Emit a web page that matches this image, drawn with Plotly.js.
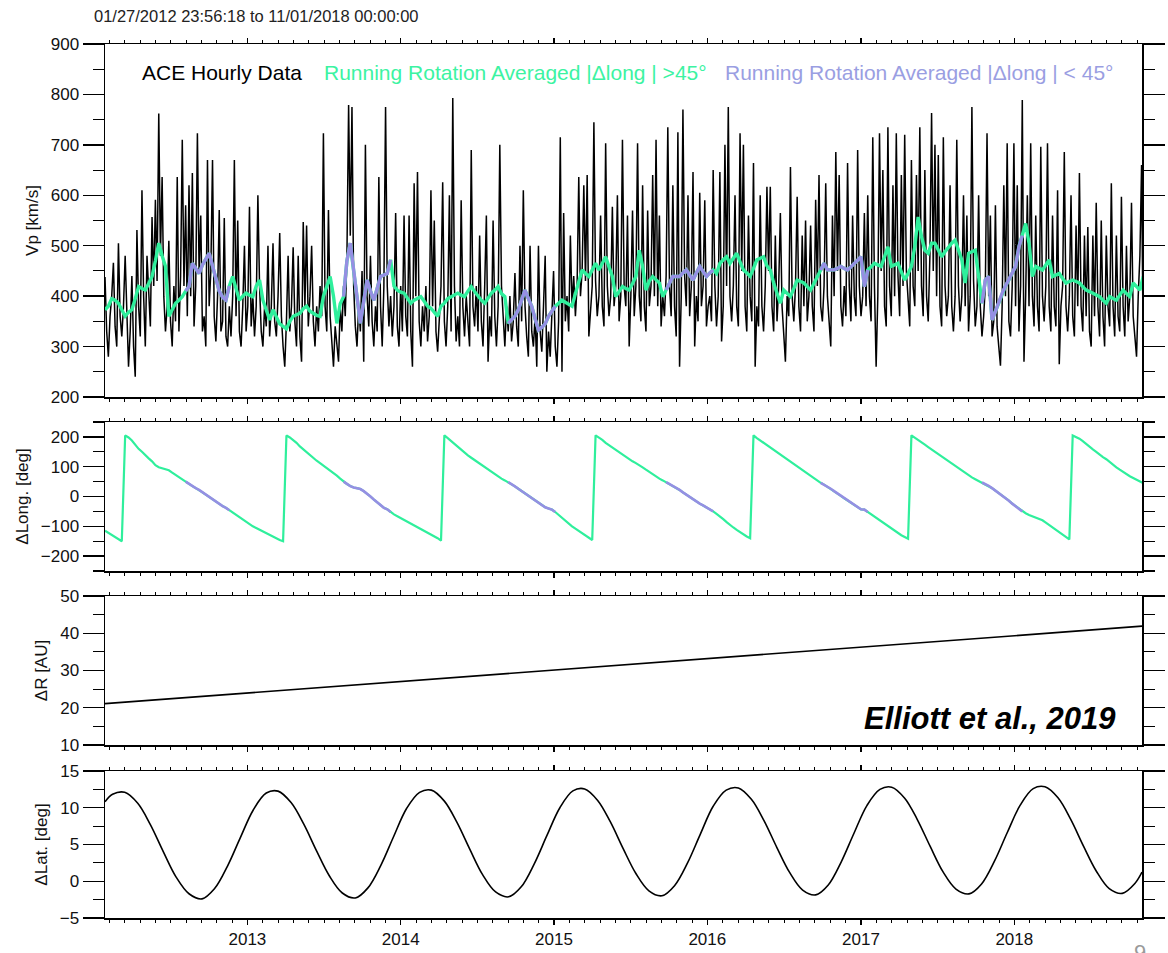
<!DOCTYPE html>
<html><head><meta charset="utf-8">
<script src="https://cdn.plot.ly/plotly-3.0.1.min.js"></script>
<style>html,body{margin:0;padding:0;background:#fff;}#chart{width:1168px;height:953px;}</style>
</head><body><div id="chart"></div>
<script>
// ---------------- DATA ----------------
const startDate = '2012-01-28';
const hourlyStepDays = 4;   // sampling step of the hourly-data trace
const avgStepDays = 8;      // sampling step of running average / delta-long traces
const xRange = ['2012-01-27 23:56:18', '2018-11-01 00:00:00'];

// ACE solar wind speed (km/s)
const vpHourly = [
438,330,280,360,400,466,340,300,505,360,
320,380,480,350,260,330,440,300,240,531,
380,320,610,400,300,480,420,340,557,420,
591,430,762,480,636,400,330,380,510,350,
300,420,350,636,330,440,710,420,580,360,
620,400,644,340,420,723,450,560,330,360,
300,670,380,450,670,360,310,400,571,330,
350,555,320,300,380,320,400,670,360,550,
330,300,380,500,330,380,577,340,400,320,
380,600,420,330,300,380,340,500,320,380,
505,350,320,400,525,360,300,260,350,480,
330,380,497,350,300,480,320,270,547,380,
540,340,400,500,350,300,380,330,420,360,
723,380,330,571,360,300,260,340,300,270,
380,330,420,360,480,779,520,775,420,340,
300,380,330,450,270,700,400,340,480,350,
300,380,330,636,380,300,420,775,420,340,
400,320,380,565,340,300,420,330,560,360,
320,560,330,260,624,400,646,350,300,380,
330,420,310,360,610,380,550,330,290,360,
420,626,350,300,380,600,330,793,420,310,
360,300,590,380,320,400,350,300,690,380,
340,420,330,520,350,300,420,560,270,360,
320,550,360,300,380,700,420,350,300,380,
330,400,310,350,446,340,300,500,350,610,
380,320,280,500,330,300,360,260,500,330,
290,380,480,250,330,280,360,450,300,260,
350,715,250,565,350,400,330,520,380,440,
360,420,636,400,450,620,430,640,320,380,
420,745,430,360,400,560,380,340,703,420,
360,400,577,380,420,600,350,400,710,420,
380,560,300,400,570,360,420,703,400,350,
620,380,330,570,380,420,640,400,710,380,
560,340,400,360,440,735,420,360,620,380,
320,725,260,400,770,440,380,600,360,420,
646,300,400,350,605,380,420,590,340,380,
400,350,650,420,340,400,646,310,380,700,
420,775,400,350,420,600,380,340,723,450,
700,380,330,560,400,350,664,260,380,340,
600,380,330,420,617,450,617,380,330,520,
350,420,565,380,330,270,400,360,656,400,
350,420,597,380,330,520,380,550,350,400,
540,380,330,591,420,640,380,350,420,624,
400,350,300,560,400,686,450,640,380,340,
420,360,664,420,350,560,400,360,690,420,
360,400,565,380,600,400,350,715,420,260,
400,723,450,650,380,340,735,420,360,620,
400,723,440,360,640,420,720,450,380,340,
670,420,380,640,450,735,420,360,650,400,
350,480,763,450,700,400,680,380,340,715,
420,360,400,620,380,330,400,710,420,350,
400,600,380,560,330,400,775,430,340,380,
600,380,320,360,420,723,400,560,320,350,
580,340,300,262,380,620,400,703,350,320,
420,703,380,620,330,420,789,270,400,600,
380,703,400,340,560,380,330,696,400,350,
420,703,380,330,560,380,340,610,265,380,
420,686,380,330,400,600,360,320,540,380,
644,380,330,520,360,537,330,300,520,360,
585,380,320,550,360,300,520,380,340,624,
380,320,520,360,330,597,380,320,500,350,
400,585,360,320,280,400,480,660,280];

// Running rotation averaged speed (km/s)
const vpRotAvg = [
373,380,395,392,386,372,360,368,373,395,
419,415,412,425,439,470,505,480,459,360,
372,386,392,399,410,419,465,455,445,462,
475,485,460,432,410,398,392,420,439,415,
392,400,406,402,399,420,432,392,370,353,
373,360,345,340,335,350,360,363,366,375,
380,370,366,362,360,400,419,439,400,346,
385,399,470,505,450,399,346,390,432,410,
392,415,439,442,445,472,420,412,408,406,
396,386,392,396,399,390,380,376,368,360,
380,386,395,399,402,406,402,399,410,419,
409,399,392,386,396,406,412,419,405,399,
346,353,360,373,395,412,395,380,355,333,
338,345,360,370,380,386,392,388,384,380,
405,426,452,445,439,452,465,452,465,478,
458,439,399,410,419,415,412,425,439,491,
459,412,430,439,432,426,399,412,426,439,
439,439,446,452,442,432,446,459,449,439,
446,452,445,465,472,478,465,475,485,468,
452,446,439,455,472,475,478,460,452,426,
405,386,412,405,399,415,432,429,426,419,
412,425,439,452,465,452,452,452,455,459,
455,452,458,465,472,478,419,452,458,465,
462,459,478,498,459,462,465,448,432,445,
459,498,557,518,491,485,505,505,490,478,
488,498,505,511,490,472,426,485,488,491,
439,386,432,439,353,370,390,406,420,432,
445,459,498,520,544,505,439,459,455,452,
462,472,439,442,445,435,426,429,432,429,
426,419,412,409,406,402,399,392,386,399,
395,392,402,412,405,399,426,419,412,439];

// Longitude difference (deg), same sampling as the running average
const deltaLong = [
-115,-122,-128,-136,-142,-150,205,198,188,172,
160,150,138,128,118,105,98,95,92,88,
80,72,66,58,50,42,35,28,22,14,
6,-2,-10,-16,-24,-32,-38,-46,-54,-62,
-70,-78,-84,-92,-100,-106,-112,-118,-124,-130,
-136,-140,-146,-150,205,198,190,180,168,158,
150,140,130,120,112,104,96,88,80,70,
60,50,42,35,30,28,25,18,10,0,
-10,-20,-30,-38,-43,-52,-60,-66,-72,-80,
-86,-92,-98,-104,-110,-116,-122,-128,-134,-140,
-148,205,196,186,176,166,156,146,138,130,
122,114,106,98,90,82,74,66,60,54,
48,42,34,26,18,10,2,-6,-14,-22,
-30,-36,-40,-44,-52,-62,-72,-82,-92,-100,
-108,-116,-124,-132,-140,-146,205,198,190,180,
172,164,156,148,140,132,124,118,112,106,
98,90,82,74,66,60,54,48,42,36,
30,22,14,6,-2,-10,-18,-24,-30,-36,
-42,-50,-58,-66,-76,-86,-96,-104,-112,-120,
-128,-134,-140,205,196,188,180,172,164,156,
148,140,132,124,116,108,100,92,84,76,
68,60,52,46,40,33,26,18,10,2,
-6,-14,-22,-30,-37,-43,-44,-52,-60,-68,
-76,-84,-92,-100,-108,-116,-124,-130,-136,-142,
205,198,190,182,174,166,158,150,142,134,
126,118,110,102,94,86,78,70,64,58,
52,47,42,36,28,20,12,4,-4,-14,
-24,-32,-40,-50,-56,-62,-66,-70,-74,-80,
-88,-96,-104,-112,-120,-128,-136,-144,205,200,
194,186,176,166,158,150,140,132,125,115,
106,98,90,82,74,68,62,56,50,45];
const longThreshold = 45;

// Radial distance difference (AU)
const deltaRDates = ['2012-01-27 23:56:18', '2018-11-01 00:00:00'];
const deltaR = [21.1, 41.9];

// Latitude difference (deg): 2012-01-28, then the 15th of each month, then 2018-11-01
const deltaLat = [
10.8,11.83,12.1,10.6,7.7,4.0,0.6,-1.7,-2.4,-1.0,2.1,5.9,
9.7,12.0,12.26,10.7,7.8,4.1,0.75,-1.6,-2.27,-0.9,2.2,6.05,
9.9,12.1,12.4,10.9,8.0,4.3,0.9,-1.46,-2.12,-0.76,2.37,6.2,
10.0,12.3,12.56,11.0,8.1,4.4,1.05,-1.3,-1.97,-0.6,2.5,6.35,
10.2,12.4,12.7,11.15,8.25,4.55,1.2,-1.2,-1.85,-0.5,2.65,6.5,
10.3,12.5,12.8,11.3,8.4,4.7,1.3,-1.06,-1.72,-0.36,2.77,6.6,
10.35,12.6,12.85,11.35,8.45,4.75,1.4,-1.0,-1.65,-0.3,1.25];

const titleText = '01/27/2012 23:56:18 to 11/01/2018 00:00:00';
const legendTexts = ['ACE Hourly Data', 'Running Rotation Averaged |\u0394long | >45\u00b0', 'Running Rotation Averaged |\u0394long | < 45\u00b0'];
const citation = 'Elliott et al., 2019';

// ---------------- BUILD ----------------
function addDays(d0, n) {
  const d = new Date(d0 + 'T00:00:00Z');
  d.setUTCDate(d.getUTCDate() + n);
  return d.toISOString().slice(0, 10);
}
const hourlyDates = vpHourly.map((_, i) => addDays(startDate, i * hourlyStepDays));
const avgDates = vpRotAvg.map((_, j) => addDays(startDate, j * avgStepDays));
const latDates = ['2012-01-28'];
for (let y = 2012; y <= 2018; y++) {
  for (let m = (y === 2012 ? 2 : 1); m <= (y === 2018 ? 10 : 12); m++) latDates.push(y + '-' + String(m).padStart(2, '0') + '-15');
}
latDates.push('2018-11-01');

const isSlow = k => k >= 0 && k < deltaLong.length && Math.abs(deltaLong[k]) < longThreshold;
const slowMask = arr => arr.map((v, k) => (isSlow(k) || isSlow(k - 1) || isSlow(k + 1)) ? v : null);

const GREEN = '#2FEF9C', PURPLE = '#958FE3';
const FONT = 'Liberation Sans, Arial, Helvetica, sans-serif';

const traces = [
  {x: hourlyDates, y: vpHourly, xaxis: 'x', yaxis: 'y', mode: 'lines', line: {color: '#000', width: 1.5}, hoverinfo: 'skip'},
  {x: avgDates, y: vpRotAvg, xaxis: 'x', yaxis: 'y', mode: 'lines', line: {color: GREEN, width: 3.4}},
  {x: avgDates, y: slowMask(vpRotAvg), xaxis: 'x', yaxis: 'y', mode: 'lines', line: {color: PURPLE, width: 3.4}, connectgaps: false},
  {x: avgDates, y: deltaLong, xaxis: 'x2', yaxis: 'y2', mode: 'lines', line: {color: GREEN, width: 2.2}},
  {x: avgDates, y: slowMask(deltaLong), xaxis: 'x2', yaxis: 'y2', mode: 'lines', line: {color: PURPLE, width: 2.6}, connectgaps: false},
  {x: deltaRDates, y: deltaR, xaxis: 'x3', yaxis: 'y3', mode: 'lines', line: {color: '#000', width: 1.6}},
  {x: latDates, y: deltaLat, xaxis: 'x4', yaxis: 'y4', mode: 'lines', line: {color: '#000', width: 1.6, shape: 'spline', smoothing: 1}}
];

const H = 953, W = 1168;
const dom = (top, bot) => [1 - bot / H, 1 - top / H];
const tickFont = {family: FONT, size: 17, color: '#111'};
const titleFont = {family: FONT, size: 17, color: '#111'};

function xAxis(showLabels) {
  return {
    type: 'date', range: xRange, domain: [105 / W, 1142 / W],
    showgrid: false, zeroline: false, showline: true, linecolor: '#000', linewidth: 1.5, mirror: 'ticks',
    ticks: 'outside', ticklen: 5, tickwidth: 1.3, tickcolor: '#000',
    tick0: '2013-01-01', dtick: 'M12', tickformat: '%Y', showticklabels: showLabels, tickfont: tickFont,
    minor: {ticks: 'outside', ticklen: 3, tickwidth: 1, tickcolor: '#000', tick0: '2013-01-01', dtick: 0.1 * 365.25 * 86400000, showgrid: false},
    automargin: false, fixedrange: true
  };
}
function yAxis(top, bot, range, dtick, mdtick, title) {
  return {
    domain: dom(top, bot), range: range, tick0: 0, dtick: dtick,
    showgrid: false, zeroline: false, showline: true, linecolor: '#000', linewidth: 1.5, mirror: 'ticks',
    ticks: 'outside', ticklen: 21, tickwidth: 1.3, tickcolor: '#000', tickfont: tickFont,
    minor: {ticks: 'outside', ticklen: 11, tickwidth: 1.1, tickcolor: '#000', dtick: mdtick, tick0: 0, showgrid: false},
    title: {text: title, font: titleFont, standoff: 8},
    automargin: false, fixedrange: true
  };
}

const legendFont = c => ({family: FONT, size: 21, color: c});
const layout = {
  width: W, height: H, margin: {l: 0, r: 0, t: 0, b: 0},
  paper_bgcolor: '#fff', plot_bgcolor: '#fff', showlegend: false,
  xaxis: Object.assign(xAxis(false), {anchor: 'y'}),
  xaxis2: Object.assign(xAxis(false), {anchor: 'y2', matches: 'x'}),
  xaxis3: Object.assign(xAxis(false), {anchor: 'y3', matches: 'x'}),
  xaxis4: Object.assign(xAxis(true), {anchor: 'y4', matches: 'x'}),
  yaxis: Object.assign(yAxis(44, 397, [200, 900], 100, 50, 'Vp [km/s]'), {anchor: 'x'}),
  yaxis2: Object.assign(yAxis(422, 571, [-250, 250], 100, 50, '\u0394Long. [deg]'), {anchor: 'x2'}),
  yaxis3: Object.assign(yAxis(596, 745, [10, 50], 10, 5, '\u0394R [AU]'), {anchor: 'x3'}),
  yaxis4: Object.assign(yAxis(771, 918, [-5, 15], 5, 2.5, '\u0394Lat. [deg]'), {anchor: 'x4'}),
  annotations: [
    {text: titleText, xref: 'paper', yref: 'paper', x: 92 / W, y: 1 - 16 / H, xanchor: 'left', yanchor: 'middle', showarrow: false,
     font: {family: FONT, size: 16.5, color: '#222'}},
    {text: legendTexts[0], xref: 'paper', yref: 'paper', x: 140 / W, y: 1 - 72 / H, xanchor: 'left', yanchor: 'middle', showarrow: false,
     font: legendFont('#000')},
    {text: legendTexts[1], xref: 'paper', yref: 'paper', x: 322 / W, y: 1 - 72 / H, xanchor: 'left', yanchor: 'middle', showarrow: false,
     font: legendFont('#3CF3A2')},
    {text: legendTexts[2], xref: 'paper', yref: 'paper', x: 723 / W, y: 1 - 72 / H, xanchor: 'left', yanchor: 'middle', showarrow: false,
     font: legendFont('#9A9EE2')},
    {text: '<b><i>' + citation + '</i></b>', xref: 'paper', yref: 'paper', x: 1118 / W, y: 1 - 718 / H, xanchor: 'right', yanchor: 'middle', showarrow: false,
     font: {family: FONT, size: 31, color: '#000'}},
    {text: '9', xref: 'paper', yref: 'paper', x: 1140 / W, y: 1 - 938 / H, xanchor: 'center', yanchor: 'top', showarrow: false,
     font: {family: FONT, size: 22, color: '#9a9a9a'}}
  ]
};

Plotly.newPlot('chart', traces, layout, {staticPlot: true, displayModeBar: false});
</script></body></html>
